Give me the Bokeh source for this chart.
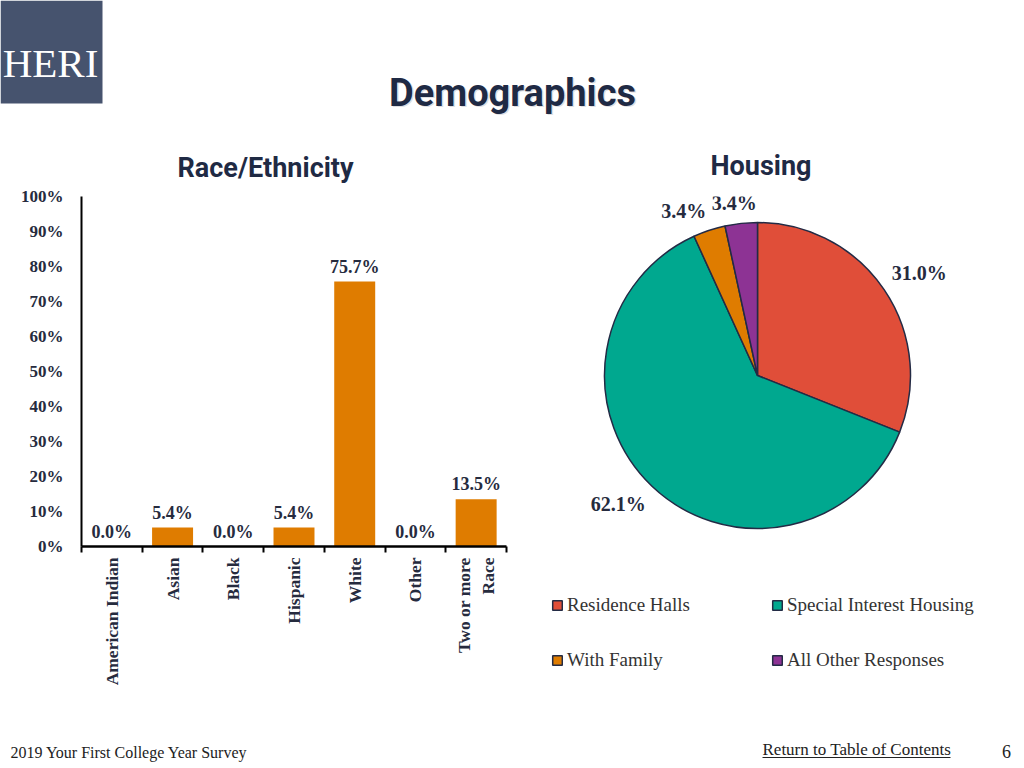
import math
from bokeh.plotting import figure
from bokeh.models import (Range1d, FixedTicker, PrintfTickFormatter, ColumnDataSource,
                          Label, Legend, LegendItem, LinearAxis)
from bokeh.layouts import column, row
from bokeh.embed import file_html
from bokeh.resources import INLINE
from bokeh.core.properties import value

# ---------------- data ----------------
race_categories = ["American Indian", "Asian", "Black", "Hispanic", "White", "Other", "Two or more\nRace"]
race_values = [0.0, 5.4, 0.0, 5.4, 75.7, 0.0, 13.5]
race_y_ticks = [0, 10, 20, 30, 40, 50, 60, 70, 80, 90, 100]

housing_labels = ["Residence Halls", "Special Interest Housing", "With Family", "All Other Responses"]
housing_values = [31.0, 62.1, 3.4, 3.4]
legend_order = [0, 2, 1, 3]   # column-major fill -> row-major appearance

# ---------------- styles ----------------
NAVY = "#1F2A44"
DARK = "#262B3E"
ORANGE = "#DF7C00"
housing_colors = ["#E04E39", "#00A88F", "#DF7C00", "#8D3394"]
SERIF = "Liberation Serif"
SANS = "Roboto"


def base_fig(**kw):
    p = figure(output_backend="svg", toolbar_location=None,
               x_axis_location=None, y_axis_location=None, **kw)
    p.grid.visible = False
    p.outline_line_color = None
    p.background_fill_color = "white"
    p.border_fill_color = "white"
    return p


def style_title(p, text, offset, standoff):
    p.title.text = text
    p.title.align = "left"
    p.title.offset = offset
    p.title.standoff = standoff
    p.title.text_font = SANS
    p.title.text_font_style = "bold"
    p.title.text_font_size = "27px"
    p.title.text_color = NAVY

# ---------------- header (page y 0..128) ----------------
head = base_fig(width=1024, height=128, x_range=Range1d(0, 1024), y_range=Range1d(0, 128), min_border=0)
head.quad(left=0, right=102, bottom=25, top=128, fill_color="#46536E", line_color=None)
head.add_layout(Label(x=50, y=66, text="HERI", text_align="center", text_baseline="middle",
                      text_font=SERIF, text_font_size="41px", text_color="white"))
head.add_layout(Label(x=513.5, y=34.5, text="Demographics", text_align="center", text_baseline="middle",
                      text_font=SANS, text_font_style="bold", text_font_size="38px",
                      text_color="#A0A4AC", text_alpha=0.35))
head.add_layout(Label(x=512, y=36, text="Demographics", text_align="center", text_baseline="middle",
                      text_font=SANS, text_font_style="bold", text_font_size="38px", text_color=NAVY))

# ---------------- bar chart (page x 0..540, y 128..736) ----------------
n = len(race_categories)
centers = [i + 0.5 for i in range(n)]
bounds = [float(i) for i in range(n + 1)]

ROW_H = 608
TOP_B, BOT_B = 68, 190
FH = ROW_H - TOP_B - BOT_B          # frame height (350)

bar = base_fig(width=540, height=ROW_H, x_range=Range1d(0, n), y_range=Range1d(0, 100),
               min_border_left=81, min_border_right=34, min_border_top=TOP_B, min_border_bottom=BOT_B)
style_title(bar, "Race/Ethnicity", 96, 25)

yaxis = LinearAxis(ticker=FixedTicker(ticks=race_y_ticks, minor_ticks=[]),
                   formatter=PrintfTickFormatter(format="%d%%"))
yaxis.axis_line_color = "black"
yaxis.axis_line_width = 2
yaxis.major_tick_line_color = None
yaxis.major_tick_out = 0
yaxis.major_tick_in = 0
yaxis.minor_tick_line_color = None
yaxis.major_label_standoff = 18
yaxis.major_label_text_font = SERIF
yaxis.major_label_text_font_style = "bold"
yaxis.major_label_text_font_size = "17px"
yaxis.major_label_text_color = DARK
bar.add_layout(yaxis, "left")

xaxis = LinearAxis(ticker=FixedTicker(ticks=centers, minor_ticks=bounds),
                   major_label_overrides={c: name for c, name in zip(centers, race_categories)})
xaxis.axis_line_color = "black"
xaxis.axis_line_width = 2.5
xaxis.major_tick_line_color = None
xaxis.major_tick_out = 0
xaxis.major_tick_in = 0
xaxis.minor_tick_line_color = "black"
xaxis.minor_tick_line_width = 2
xaxis.minor_tick_out = 6
xaxis.minor_tick_in = 0
xaxis.major_label_orientation = math.pi / 2
xaxis.major_label_standoff = 5
xaxis.major_label_text_font = SERIF
xaxis.major_label_text_font_style = "bold"
xaxis.major_label_text_font_size = "17.5px"
xaxis.major_label_text_color = DARK
bar.add_layout(xaxis, "below")

bar_src = ColumnDataSource(dict(x=centers, top=race_values,
                                label=[f"{v:.1f}%" for v in race_values]))
bar.vbar(x="x", top="top", bottom=0, width=0.675, source=bar_src,
         fill_color=ORANGE, line_color=None)
bar.text(x="x", y="top", text="label", source=bar_src, text_align="center",
         text_baseline="bottom", y_offset=-5, text_font=value(SERIF), text_font_style="bold",
         text_font_size="18px", text_color=DARK)

# ---------------- pie chart (page x 540..1024, y 128..546) ----------------
PW = 484
CX, CY, R = 217, 179, 153           # centre within frame (from frame top-left), radius in px
pie = base_fig(width=PW, height=TOP_B + FH, min_border_left=0, min_border_right=0,
               min_border_top=TOP_B, min_border_bottom=0,
               x_range=Range1d(-CX / R, (PW - CX) / R),
               y_range=Range1d(-(FH - CY) / R, CY / R))
style_title(pie, "Housing", 170, 30)

total = sum(housing_values)
starts, ends, mids = [], [], []
cum = 0.0
for v in housing_values:
    s = math.pi / 2 - 2 * math.pi * cum / total
    cum += v
    e = math.pi / 2 - 2 * math.pi * cum / total
    starts.append(s)
    ends.append(e)
    mids.append((s + e) / 2)

pie_src = ColumnDataSource(dict(start=starts, end=ends, color=housing_colors, name=housing_labels))
pie.wedge(x=0, y=0, radius=1, start_angle="start", end_angle="end", direction="clock",
          source=pie_src, fill_color="color", line_color="#232B45", line_width=1.5)

for v, a in zip(housing_values, mids):
    c, s = math.cos(a), math.sin(a)
    align = "left" if c > 0.2 else ("right" if c < -0.2 else "center")
    base = "bottom" if s > 0.2 else ("top" if s < -0.2 else "middle")
    pie.add_layout(Label(x=1.06 * c, y=1.06 * s, text=f"{v:.1f}%", text_align=align,
                         text_baseline=base, x_offset=(-6 if align == "center" else 0),
                         text_font=SERIF, text_font_style="bold",
                         text_font_size="20px", text_color=DARK))

# ---------------- legend (page x 540..1024, y 546..736) ----------------
LH = ROW_H - TOP_B - FH              # 190
leg = base_fig(width=PW, height=LH, min_border=0, x_range=Range1d(0, PW), y_range=Range1d(0, LH))
leg_wedges = leg.wedge(x=-1000, y=-1000, radius=1, start_angle="start", end_angle="end",
                       direction="clock", source=pie_src, fill_color="color",
                       line_color="#232B45", line_width=1.5)
legend = Legend(items=[LegendItem(label=housing_labels[i], renderers=[leg_wedges], index=i)
                       for i in legend_order],
                ncols=2, location=(11, 65), glyph_width=12, glyph_height=12,
                label_standoff=4, spacing=33, padding=0, margin=0, label_height=20,
                label_width=171, border_line_color=None, background_fill_alpha=0,
                label_text_font=SERIF, label_text_font_size="19px", label_text_color="#333333")
leg.add_layout(legend, "center")

# ---------------- footer (page y 736..768) ----------------
foot = base_fig(width=1024, height=32, x_range=Range1d(0, 1024), y_range=Range1d(0, 32), min_border=0)
foot.add_layout(Label(x=10, y=16, text="2019 Your First College Year Survey", text_baseline="middle",
                      text_font=SERIF, text_font_size="16px", text_color="#222222"))
foot.add_layout(Label(x=762, y=19, text="Return to Table of Contents", text_baseline="middle",
                      text_font=SERIF, text_font_size="17px", text_color="#222222"))
foot.segment(x0=762, y0=11, x1=950, y1=11, line_color="#222222", line_width=1)
foot.add_layout(Label(x=1006, y=17, text="6", text_align="center", text_baseline="middle",
                      text_font=SERIF, text_font_size="18px", text_color="#222222"))

layout = column(head, row(bar, column(pie, leg)), foot)
open("out.html", "w").write(file_html(layout, INLINE))
